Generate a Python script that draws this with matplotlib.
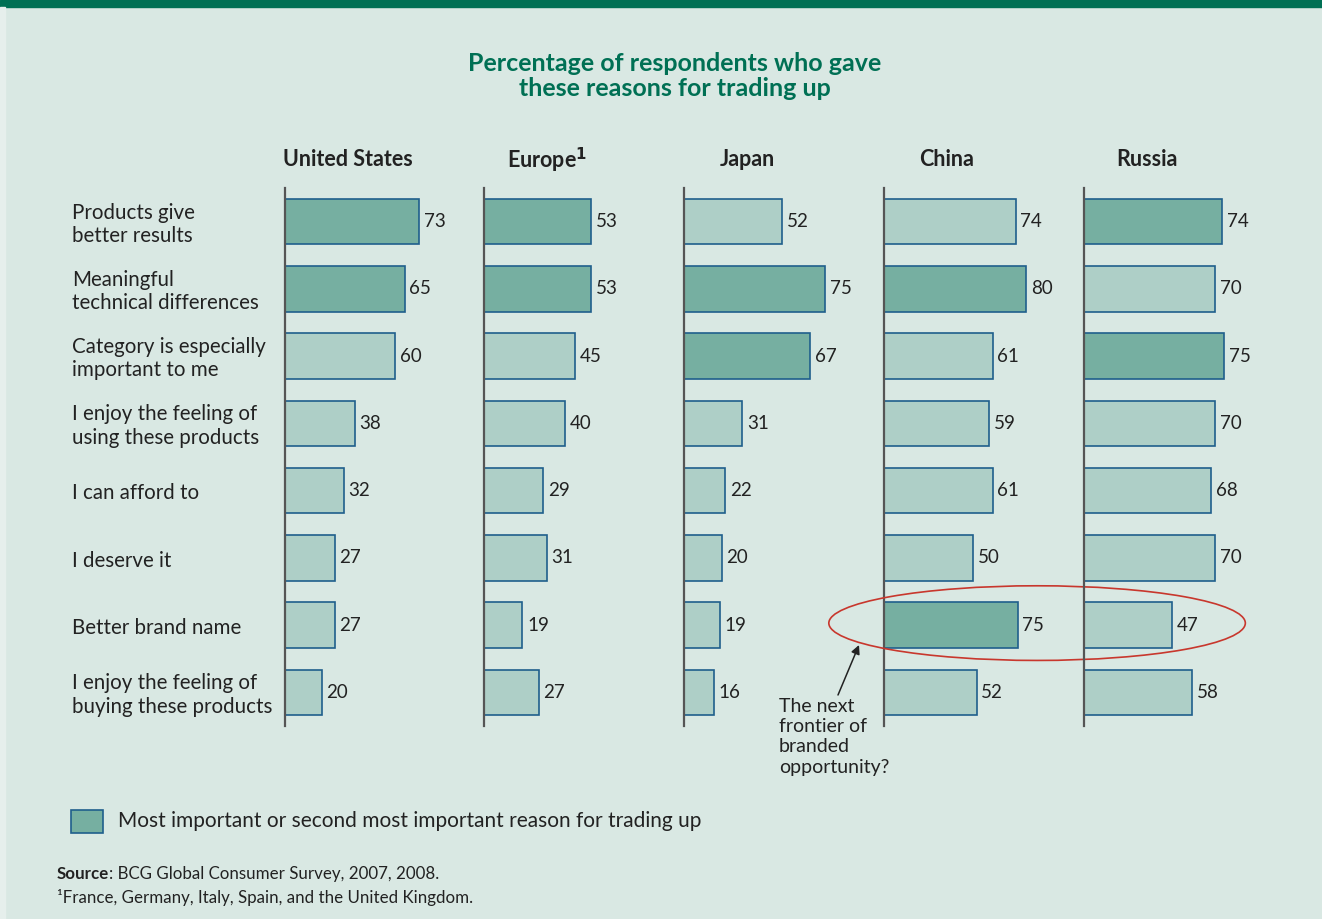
import matplotlib
matplotlib.use("Agg")
import matplotlib.pyplot as plt
from matplotlib.patches import Rectangle, Ellipse
from matplotlib.transforms import blended_transform_factory
import numpy as np

plt.rcParams["font.family"] = ["Lato", "DejaVu Sans"]

RAZOES = ["Products give\nbetter results", "Meaningful\ntechnical differences",
          "Category is especially\nimportant to me", "I enjoy the feeling of\nusing these products",
          "I can afford to", "I deserve it", "Better brand name",
          "I enjoy the feeling of\nbuying these products"]
PAISES = ["United States", r"Europe$^{\mathbf{1}}$", "Japan", "China", "Russia"]
VALORES = {
    "United States": [73, 65, 60, 38, 32, 27, 27, 20],
    "Europe":        [53, 53, 45, 40, 29, 31, 19, 27],
    "Japan":         [52, 75, 67, 31, 22, 20, 19, 16],
    "China":         [74, 80, 61, 59, 61, 50, 75, 52],
    "Russia":        [74, 70, 75, 70, 68, 70, 47, 58],
}
# 1 = razao mais importante ou segunda mais importante
DESTAQUE = {
    "United States": [1, 1, 0, 0, 0, 0, 0, 0],
    "Europe":        [1, 1, 0, 0, 0, 0, 0, 0],
    "Japan":         [0, 1, 1, 0, 0, 0, 0, 0],
    "China":         [0, 1, 0, 0, 0, 0, 1, 0],
    "Russia":        [1, 0, 1, 0, 0, 0, 0, 0],
}

FUNDO, VERDE = "#d9e8e3", "#007054"
ESCURO, CLARO, BORDA = "#76afa1", "#aecfc7", "#1f5f8c"
TXT = "#222222"

W, H = 1322, 919
fig = plt.figure(figsize=(W / 100, H / 100), dpi=100, facecolor=FUNDO)
fig.patches.append(Rectangle((0, 1 - 7 / H), 1, 7 / H, transform=fig.transFigure, color=VERDE))
fig.patches.append(Rectangle((0, 0), 5 / W, 1 - 7 / H, transform=fig.transFigure, color="#e6efec"))

fig.text(675 / W, 1 - 76 / H, "Percentage of respondents who gave\nthese reasons for trading up",
         ha="center", va="center", fontsize=18, weight="bold", color=VERDE, linespacing=1.1)

# posicao do eixo (px) e largura de 100 unidades (px) de cada painel
x_eixos = [285, 484, 684, 884, 1084]
larguras = [184, 202, 188, 178, 187]
topo, base = 188, 726
eixos = []
y = np.arange(len(RAZOES))
for px, lw_px, rotulo, chave in zip(x_eixos, larguras, PAISES, VALORES):
    ax = fig.add_axes([px / W, 1 - base / H, lw_px / W, (base - topo) / H])
    ax.set_facecolor("none")
    vals = VALORES[chave]
    cores = [ESCURO if d else CLARO for d in DESTAQUE[chave]]
    ax.barh(y, vals, height=0.68, color=cores, edgecolor=BORDA, linewidth=1.2, zorder=2)
    for yi, v in zip(y, vals):
        ax.text(v + 2.5, yi, f"{v}", va="center", ha="left", fontsize=13.5, color=TXT)
    ax.set_xlim(0, 100)
    ax.set_ylim(len(RAZOES) - 0.5, -0.5)
    for s in ["top", "right", "bottom"]:
        ax.spines[s].set_visible(False)
    ax.spines["left"].set_color("#555555")
    ax.spines["left"].set_linewidth(1.6)
    ax.spines["left"].set_zorder(3)
    ax.set_xticks([]); ax.set_yticks([])
    fig.text((px + 63) / W, 1 - 160 / H, rotulo, ha="center", va="center",
             fontsize=15.5, weight="bold", color=TXT)
    eixos.append(ax)

tr = blended_transform_factory(fig.transFigure, eixos[0].transData)
for yi, r in zip(y, RAZOES):
    eixos[0].text(72 / W, yi + 0.04, r, transform=tr, ha="left", va="center",
                  fontsize=14.8, color=TXT, linespacing=1.2)

ax_cn = eixos[3]
ax_cn.add_patch(Ellipse((86, 5.97), 234, 1.11, fill=False, edgecolor="#c8372d",
                        linewidth=1.2, clip_on=False, zorder=4))
ax_cn.annotate("", xy=(859 / W, 1 - 645 / H), xycoords="figure fraction",
               xytext=(838 / W, 1 - 695 / H), textcoords="figure fraction",
               arrowprops=dict(arrowstyle="-|>", color=TXT, lw=1.1, mutation_scale=13,
                               shrinkA=0, shrinkB=0))
fig.text(779 / W, 1 - 698 / H, "The next\nfrontier of\nbranded\nopportunity?", ha="left",
         va="top", fontsize=14, color=TXT, linespacing=1.23)

fig.patches.append(Rectangle((71 / W, 1 - 833 / H), 32 / W, 23 / H, transform=fig.transFigure,
                             facecolor=ESCURO, edgecolor=BORDA, linewidth=1.2))
fig.text(118 / W, 1 - 821 / H, "Most important or second most important reason for trading up",
         ha="left", va="center", fontsize=15, color=TXT)

t = fig.text(57 / W, 1 - 874 / H, "Source", ha="left", va="center", fontsize=12.2,
             weight="bold", color=TXT)
fig.canvas.draw()
bb = t.get_window_extent(fig.canvas.get_renderer())
fig.text(bb.x1 / W, 1 - 874 / H, ": BCG Global Consumer Survey, 2007, 2008.", ha="left",
         va="center", fontsize=12.2, color=TXT)
fig.text(57 / W, 1 - 897 / H, "\u00b9France, Germany, Italy, Spain, and the United Kingdom.",
         ha="left", va="center", fontsize=12.2, color=TXT)

fig.savefig("out.png", dpi=100, facecolor=FUNDO)
